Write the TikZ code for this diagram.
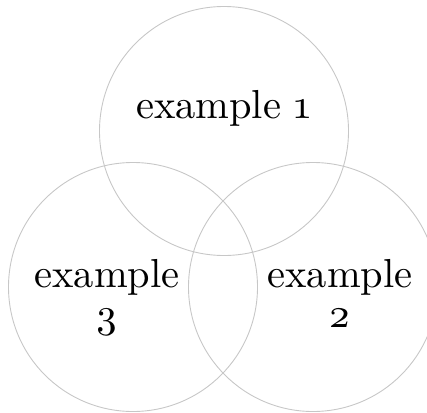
\documentclass[tikz,border=0pt]{standalone}
\usepackage{fontspec}
\setmainfont{lmroman10-regular.otf}[Numbers=OldStyle]
\begin{document}
\begin{tikzpicture}[x=1pt,y=-1pt,
  venn/.style={circle, draw=black!22, line width=0.9pt, minimum size=249pt, inner sep=0pt},
  lbl/.style={font=\fontsize{40.5}{40}\selectfont, align=center, inner sep=0pt, anchor=base}]
\useasboundingbox (0,0) rectangle (427,412);
\clip (0,0) rectangle (427,412);
\node[venn] (c1) at (224,131) {};
\node[venn] (c3) at (133,287) {};
\node[venn] (c2) at (313,287) {};
\node[lbl] (t1) at (223.5,118) {example 1};
\node[lbl] (t3) at (107,327) {example\\3};
\node[lbl] (t2) at (340,327) {example\\2};
\end{tikzpicture}
\end{document}
